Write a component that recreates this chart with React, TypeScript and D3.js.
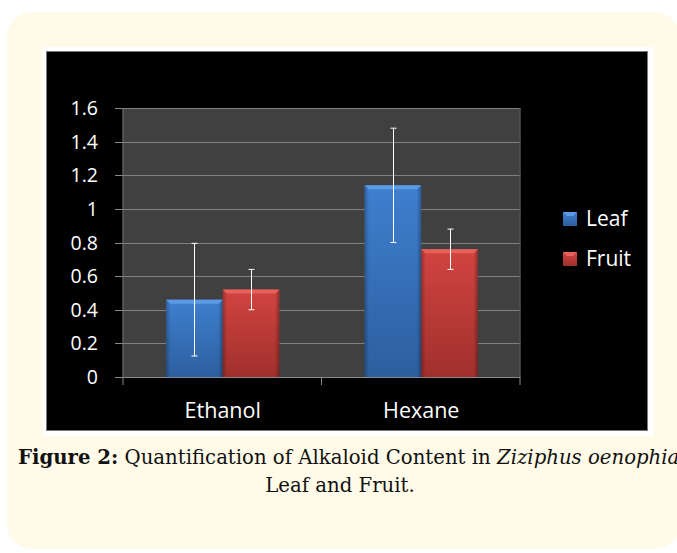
import React from 'react';
import * as d3 from 'd3';

const categories = ['Ethanol', 'Hexane'];
const seriesNames = ['Leaf', 'Fruit'];
const leafValues = [0.46, 1.14];
const leafErrors = [0.335, 0.34];
const fruitValues = [0.52, 0.76];
const fruitErrors = [0.12, 0.12];
const yTicks = [0, 0.2, 0.4, 0.6, 0.8, 1, 1.2, 1.4, 1.6];

const seriesData = [
	{ name: seriesNames[0], values: leafValues, errors: leafErrors, light: '#5b9be6', mid: '#3f7fcf', dark: '#2c5f9f' },
	{ name: seriesNames[1], values: fruitValues, errors: fruitErrors, light: '#e8605b', mid: '#d24440', dark: '#a0302d' },
];

const chartFont = "'Open Sans', 'DejaVu Sans', sans-serif";
const captionFont = "'DejaVu Serif', 'Liberation Serif', serif";

const App = () => {
	const svgWidth = 677;
	const svgHeight = 553;
	const plot = { left: 123.5, right: 520.5, top: 108, bottom: 377 };

	const xScale = d3.scaleBand().domain(categories).range([plot.left, plot.right]);
	const x1 = d3
		.scaleBand()
		.domain(seriesNames)
		.range([0, xScale.bandwidth()])
		.paddingInner(0)
		.paddingOuter(0.75);
	const yScale = d3.scaleLinear().domain([0, 1.6]).range([plot.bottom, plot.top]);

	return (
		<div style={{ position: 'absolute', left: 0, top: 0 }}>
			<svg width={svgWidth} height={svgHeight} style={{ display: 'block' }}>
				<defs>
					{seriesData.map((s) => (
						<linearGradient key={s.name} id={`grad-${s.name}`} x1='0' x2='0' y1='0' y2='1'>
							<stop offset='0%' stopColor={s.mid} />
							<stop offset='100%' stopColor={s.dark} />
						</linearGradient>
					))}
					{seriesData.map((s) => (
						<linearGradient key={s.name + 'h'} id={`gradh-${s.name}`} x1='0' x2='1' y1='0' y2='0'>
							<stop offset='0%' stopColor='#000' stopOpacity={0.25} />
							<stop offset='8%' stopColor='#000' stopOpacity={0} />
							<stop offset='92%' stopColor='#000' stopOpacity={0} />
							<stop offset='100%' stopColor='#000' stopOpacity={0.3} />
						</linearGradient>
					))}
				</defs>
				{/* page background */}
				<rect width={svgWidth} height={svgHeight} fill='#ffffff' />
				<rect x={7} y={12} width={673} height={537} rx={25} fill='#fffbe8' />

				{/* chart frame */}
				<rect x={43} y={47} width={611} height={389} fill='#ffffff' />
				<rect x={46.5} y={51.5} width={601} height={379} fill='#000000' stroke='#7a7a7a' />

				{/* plot area */}
				<rect
					x={plot.left}
					y={plot.top}
					width={plot.right - plot.left}
					height={plot.bottom - plot.top}
					fill='#404040'
				/>

				{/* gridlines */}
				{yTicks.map((t) => (
					<line
						key={'g' + t}
						x1={plot.left}
						x2={plot.right}
						y1={Math.round(yScale(t)) + 0.5}
						y2={Math.round(yScale(t)) + 0.5}
						stroke={t === 0 ? '#8a8a8a' : '#808080'}
						strokeWidth={1.2}
					/>
				))}
				<line x1={plot.right - 0.5} x2={plot.right - 0.5} y1={plot.top} y2={plot.bottom} stroke='#5a5a5a' />

				{/* y axis */}
				<line x1={plot.left - 0.5} x2={plot.left - 0.5} y1={plot.top} y2={plot.bottom} stroke='#8a8a8a' />
				{yTicks.map((t) => (
					<g key={'t' + t} transform={`translate(0, ${Math.round(yScale(t)) + 0.5})`}>
						<line x1={115} x2={plot.left} stroke='#8a8a8a' />
						<text
							x={98}
							dy='0.35em'
							textAnchor='end'
							fill='#ffffff'
							fontFamily={chartFont}
							fontSize={19.5}
						>
							{t}
						</text>
					</g>
				))}

				{/* x axis ticks */}
				{[...categories.map((c) => xScale(c) as number), plot.right].map((xv, i) => (
					<line key={'xt' + i} x1={xv - 0.5} x2={xv - 0.5} y1={plot.bottom} y2={plot.bottom + 8} stroke='#8a8a8a' />
				))}
				{categories.map((c) => (
					<text
						key={c}
						x={(xScale(c) as number) + xScale.bandwidth() / 2}
						y={418}
						textAnchor='middle'
						fill='#ffffff'
						fontFamily={chartFont}
						fontSize={21.5}
					>
						{c}
					</text>
				))}

				{/* bars */}
				{seriesData.map((s) =>
					categories.map((c, i) => {
						const bx = (xScale(c) as number) + (x1(s.name) as number);
						const bw = x1.bandwidth();
						const by = yScale(s.values[i]);
						const bh = plot.bottom - by;
						return (
							<g key={s.name + c}>
								<rect x={bx} y={by} width={bw} height={bh} fill={`url(#grad-${s.name})`} />
								<rect x={bx} y={by} width={bw} height={bh} fill={`url(#gradh-${s.name})`} />
								<polygon
									points={`${bx},${by} ${bx + bw},${by} ${bx + bw - 4},${by + 4} ${bx + 4},${by + 4}`}
									fill={s.light}
								/>
							</g>
						);
					})
				)}

				{/* error bars */}
				{seriesData.map((s) =>
					categories.map((c, i) => {
						const cx = Math.round((xScale(c) as number) + (x1(s.name) as number) + x1.bandwidth() / 2) + 0.5;
						const yTop = yScale(s.values[i] + s.errors[i]);
						const yBot = yScale(s.values[i] - s.errors[i]);
						return (
							<g key={'e' + s.name + c} stroke='#ffffff' strokeWidth={1}>
								<line x1={cx} x2={cx} y1={yTop} y2={yBot} />
								<line x1={cx - 3} x2={cx + 3} y1={yTop} y2={yTop} />
								<line x1={cx - 3} x2={cx + 3} y1={yBot} y2={yBot} />
							</g>
						);
					})
				)}

				{/* legend */}
				{seriesData.map((s, i) => (
					<g key={'l' + s.name} transform={`translate(563, ${212 + i * 40})`}>
						<rect x={0} y={0} width={14} height={14} fill={`url(#grad-${s.name})`} />
						<polygon points='0,0 14,0 10,4 4,4' fill={s.light} />
						<text
							x={23}
							y={14}
							fill='#ffffff'
							fontFamily={chartFont}
							fontSize={21}
						>
							{s.name}
						</text>
					</g>
				))}

				{/* caption */}
				<text x={18} y={464} fontFamily={captionFont} fontSize={19.7} fill='#111111'>
					<tspan fontWeight='bold'>Figure 2:</tspan>
					<tspan> Quantification of Alkaloid Content in </tspan>
					<tspan fontStyle='italic'>Ziziphus oenophia</tspan>
				</text>
				<text x={340} y={492} textAnchor='middle' fontFamily={captionFont} fontSize={19.7} fill='#111111'>
					Leaf and Fruit.
				</text>
			</svg>
		</div>
	);
};

export default App;
